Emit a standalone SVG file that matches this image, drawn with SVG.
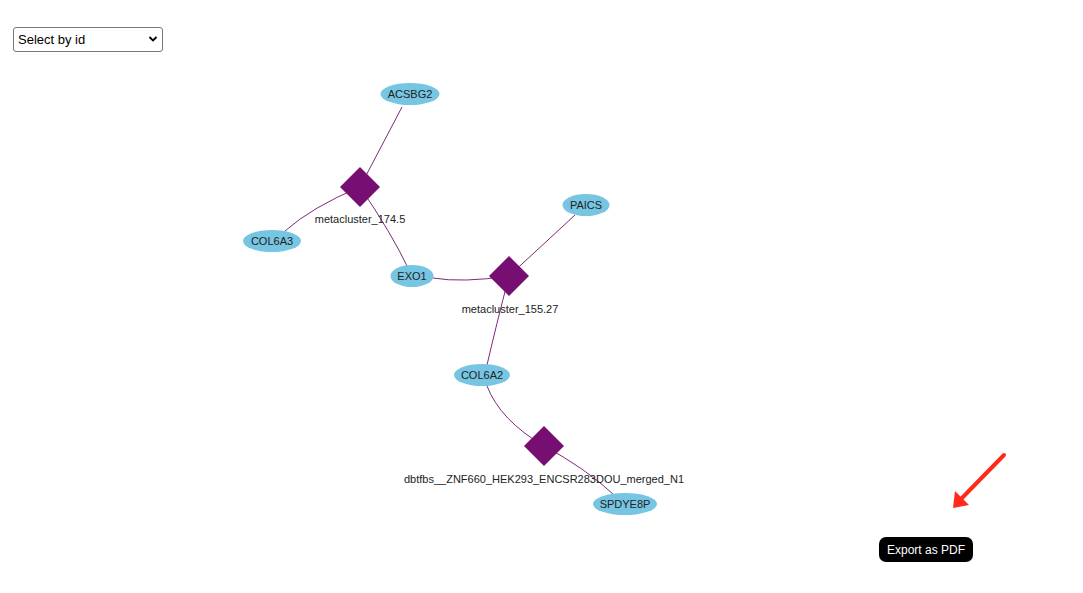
<svg xmlns="http://www.w3.org/2000/svg" width="1083" height="593" viewBox="0 0 1083 593">
<style>
text{font-family:"Liberation Sans",Arial,sans-serif;}
.gene ellipse{fill:#76c5e2;}
.gene text{font-size:11px;fill:#222;text-anchor:middle;}
.hub path{fill:#770f72;}
.hub text{font-size:11px;fill:#222;text-anchor:middle;}
.edges path{fill:none;stroke:#7d2a7a;stroke-width:1;}
</style>
<rect width="1083" height="593" fill="#fff"/>
<g id="select">
<rect x="13.5" y="27.5" width="149" height="24" rx="2.5" fill="#fff" stroke="#767676"/>
<text x="18" y="44" font-size="13" fill="#000">Select by id</text>
<path d="M149.5 37 L153 40.5 L156.5 37" fill="none" stroke="#000" stroke-width="1.8"/>
</g>
<g class="edges" id="connectors">
<path d="M402 107 L360 187"/>
<path d="M285 231 Q312 207 360 187"/>
<path d="M360 187 Q392 234 408 268"/>
<path d="M433 278 Q462 283 509 276"/>
<path d="M575 215 L509 276"/>
<path d="M509 276 Q496 326 487 365"/>
<path d="M487 386 Q500 420 544 446"/>
<path d="M544 446 Q585 468 613 494"/>
</g>
<g id="n_ACSBG2" class="gene"><ellipse cx="410" cy="94" rx="29.5" ry="11"/><text x="410" y="98">ACSBG2</text></g>
<g id="n_COL6A3" class="gene"><ellipse cx="272" cy="241" rx="29" ry="11"/><text x="272" y="245">COL6A3</text></g>
<g id="n_EXO1" class="gene"><ellipse cx="412" cy="276" rx="21.5" ry="11"/><text x="412" y="280">EXO1</text></g>
<g id="n_PAICS" class="gene"><ellipse cx="586" cy="205" rx="23.5" ry="11"/><text x="586" y="209">PAICS</text></g>
<g id="n_COL6A2" class="gene"><ellipse cx="482" cy="375" rx="28" ry="11"/><text x="482" y="379">COL6A2</text></g>
<g id="n_SPDYE8P" class="gene"><ellipse cx="625" cy="504" rx="32" ry="11"/><text x="625" y="508">SPDYE8P</text></g>
<g id="n_metacluster_174_5" class="hub"><path d="M360 167 L380 187 L360 207 L340 187 Z"/><text x="360" y="223">metacluster_174.5</text></g>
<g id="n_metacluster_155_27" class="hub"><path d="M509 256 L529 276 L509 296 L489 276 Z"/><text x="510" y="313">metacluster_155.27</text></g>
<g id="n_dbtfbs" class="hub"><path d="M544 426 L564 446 L544 466 L524 446 Z"/><text x="544" y="483">dbtfbs__ZNF660_HEK293_ENCSR283DOU_merged_N1</text></g>
<g id="red_arrow">
<path d="M1004 455 L962 498" stroke="#ff2a1a" stroke-width="4" stroke-linecap="round" fill="none"/>
<path d="M953 508 L955 491 L969 505 Z" fill="#ff2a1a"/>
</g>
<g id="export_button">
<rect x="879" y="537" width="94" height="25" rx="7" fill="#000"/>
<text x="926" y="553.5" font-size="12" fill="#fff" text-anchor="middle">Export as PDF</text>
</g>
</svg>
